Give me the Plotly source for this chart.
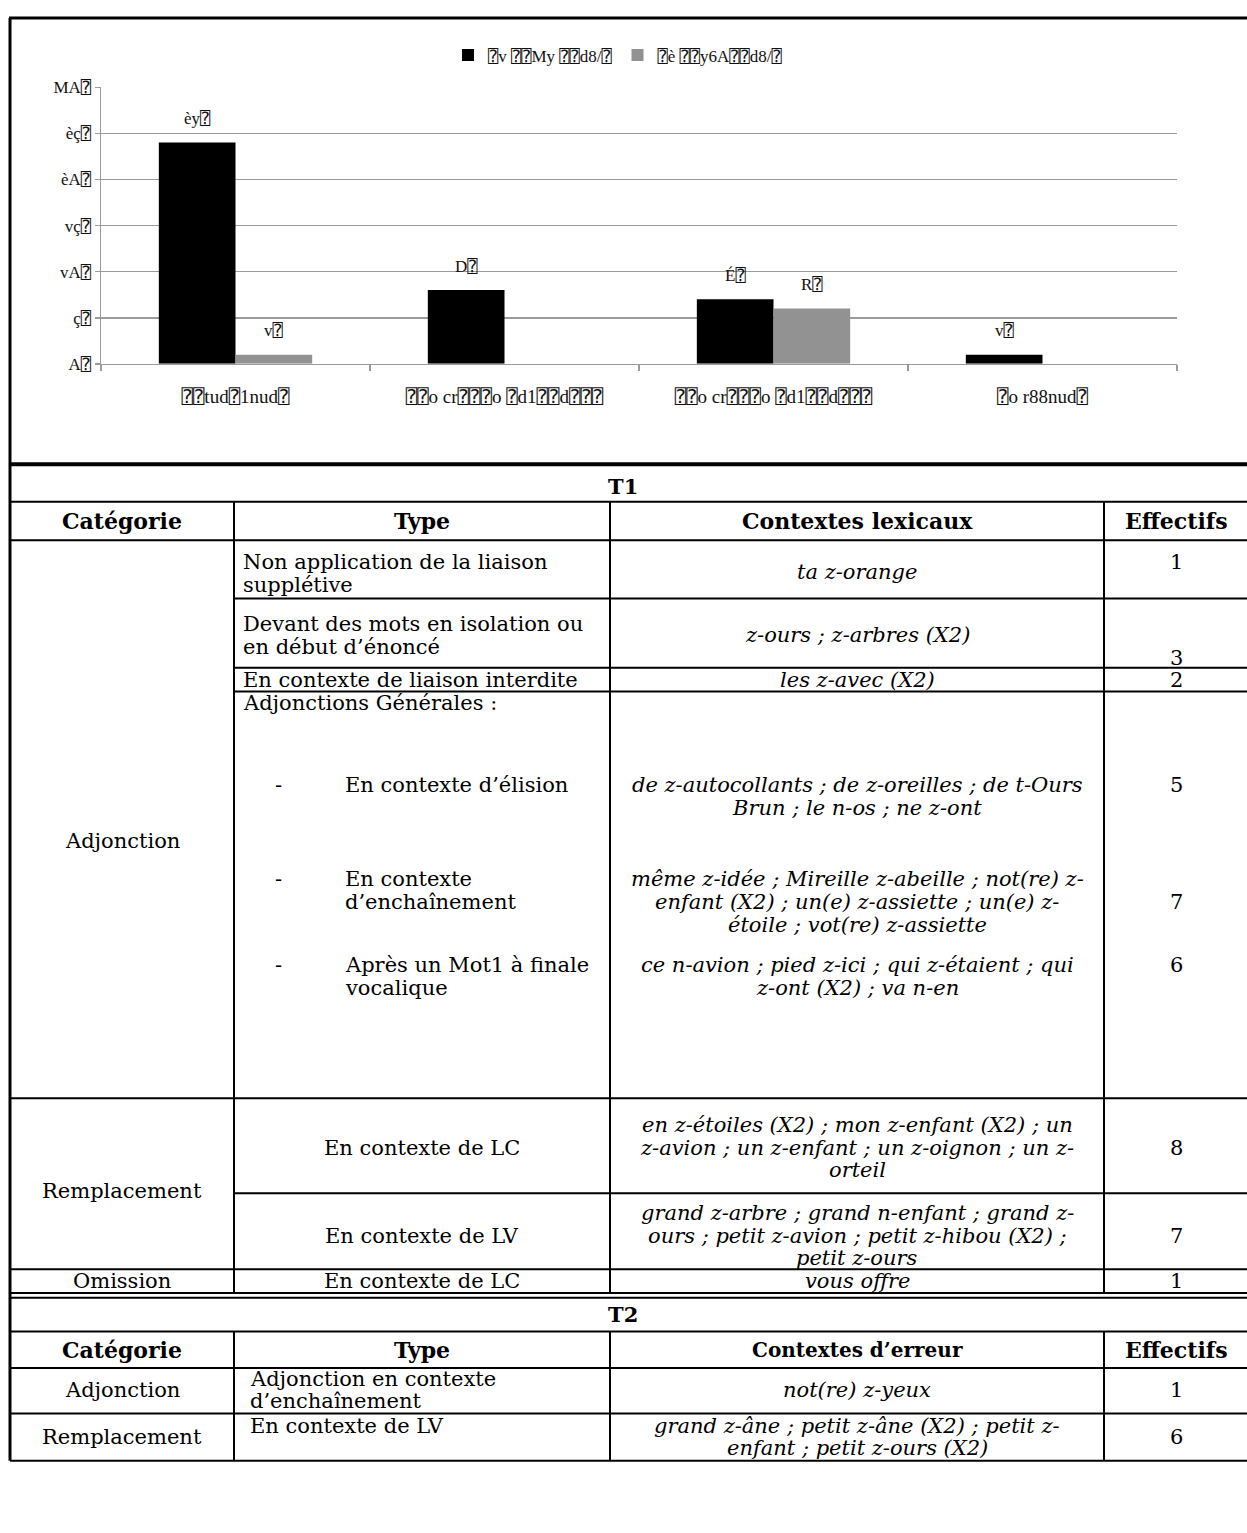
import plotly.graph_objects as go

W, H = 1247, 1533

# ---------------- chart data (text exactly as displayed, garbled glyphs included) ----------------
categories = ["⍰⍰tud⍰1nud⍰", "⍰⍰o cr⍰⍰⍰o ⍰d1⍰⍰d⍰⍰⍰", "⍰⍰o cr⍰⍰⍰o ⍰d1⍰⍰d⍰⍰⍰\u200b", "⍰o r88nud⍰"]
t1_values = [24, 8, 7, 1]
t2_values = [1, 0, 6, 0]
t1_labels = ["èy⍰", "D⍰", "É⍰", "v⍰"]
t2_labels = ["v⍰", "", "R⍰", ""]
series_names = ["⍰v ⍰⍰My ⍰⍰d8/⍰", "⍰è ⍰⍰y6A⍰⍰d8/⍰"]
ytick_vals = [0, 5, 10, 15, 20, 25, 30]
ytick_text = ["A⍰", "ç⍰", "vA⍰", "vç⍰", "èA⍰", "èç⍰", "MA⍰"]

# ---------------- table data ----------------
t1_title = "T1"
t2_title = "T2"
t1_headers = ["Catégorie", "Type", "Contextes lexicaux", "Effectifs"]
t2_headers = ["Catégorie", "Type", "Contextes d’erreur", "Effectifs"]
t1_categories = ["Adjonction", "Remplacement", "Omission"]
t1_types = [
    ["Non application de la liaison", "supplétive"],
    ["Devant des mots en isolation ou", "en début d’énoncé"],
    ["En contexte de liaison interdite"],
    ["Adjonctions Générales :"],
    ["En contexte d’élision"],
    ["En contexte", "d’enchaînement"],
    ["Après un Mot1 à finale", "vocalique"],
    ["En contexte de LC"],
    ["En contexte de LV"],
    ["En contexte de LC"],
]
t1_contexts = [
    ["ta z-orange"],
    ["z-ours ; z-arbres (X2)"],
    ["les z-avec (X2)"],
    [],
    ["de z-autocollants ; de z-oreilles ; de t-Ours", "Brun ; le n-os ; ne z-ont"],
    ["même z-idée ; Mireille z-abeille ; not(re) z-", "enfant (X2) ; un(e) z-assiette ; un(e) z-", "étoile ; vot(re) z-assiette"],
    ["ce n-avion ; pied z-ici ; qui z-étaient ; qui", "z-ont (X2) ; va n-en"],
    ["en z-étoiles (X2) ; mon z-enfant (X2) ; un", "z-avion ; un z-enfant ; un z-oignon ; un z-", "orteil"],
    ["grand z-arbre ; grand n-enfant ; grand z-", "ours ; petit z-avion ; petit z-hibou (X2) ;", "petit z-ours"],
    ["vous offre"],
]
t1_effectifs = ["1", "3", "2", "", "5", "7", "6", "8", "7", "1"]
t2_categories = ["Adjonction", "Remplacement"]
t2_types = [["Adjonction en contexte", "d’enchaînement"], ["En contexte de LV"]]
t2_contexts = [["not(re) z-yeux"], ["grand z-âne ; petit z-âne (X2) ; petit z-", "enfant ; petit z-ours (X2)"]]
t2_effectifs = ["1", "6"]

# ---------------- helpers ----------------
def px(x):
    return x / W

def py(y):
    return 1 - y / H

CHART_FONT = "Liberation Serif, DejaVu Sans Mono, DejaVu Sans"
TABLE_FONT = "DejaVu Serif, Liberation Serif"
GRID = "#9b9b9b"
BODY = 21

fig = go.Figure()
fig.add_trace(go.Bar(x=categories, y=t1_values, name=series_names[0],
                     marker=dict(color="#000000", line=dict(width=0))))
fig.add_trace(go.Bar(x=categories, y=t2_values, name=series_names[1],
                     marker=dict(color="#929292", line=dict(width=0))))

annotations = []
for i, c in enumerate(categories):
    if t1_labels[i]:
        annotations.append(dict(x=c, y=t1_values[i], xref="x", yref="y", text=t1_labels[i],
                                showarrow=False, xshift=-38, yshift=24, yanchor="middle",
                                font=dict(family=CHART_FONT, size=17, color="#111")))
    if t2_labels[i]:
        annotations.append(dict(x=c, y=t2_values[i], xref="x", yref="y", text=t2_labels[i],
                                showarrow=False, xshift=38, yshift=24, yanchor="middle",
                                font=dict(family=CHART_FONT, size=17, color="#111")))

shapes = []

def hline(y, x0, x1, w=2):
    shapes.append(dict(type="line", xref="paper", yref="paper", x0=px(x0), x1=px(x1),
                       y0=py(y), y1=py(y), line=dict(color="black", width=w)))

def vline(x, y0, y1, w=2):
    shapes.append(dict(type="line", xref="paper", yref="paper", x0=px(x), x1=px(x),
                       y0=py(y0), y1=py(y1), line=dict(color="black", width=w)))

def txt(x, y, s, size=BODY, anchor="center", bold=False, italic=False):
    if italic:
        s = "<i>" + s + "</i>"
    if bold:
        s = "<b>" + s + "</b>"
    annotations.append(dict(xref="paper", yref="paper", x=px(x), y=py(y), text=s,
                            showarrow=False, xanchor=anchor, yanchor="middle",
                            font=dict(family=TABLE_FONT, size=size, color="black")))

def lines(x, ys, arr, anchor="center", italic=False, size=BODY):
    for yy, s in zip(ys, arr):
        txt(x, yy, s, size=size, anchor=anchor, italic=italic)

# ---------------- table geometry ----------------
X0, C1, C2, C3, XR = 10, 234, 610, 1104, 1252
XC_CAT, XC_CTX, XC_EFF = (X0 + C1) / 2, (C2 + C3) / 2, 1176
X_TYPE_L, X_DASH, X_SUB = 241, 278, 343
X_TYPE_C = (C1 + C2) / 2

Y_TOP, Y_THICK = 9, 461
Y_T1, Y_H1 = 499, 538
Y_R1, Y_R2, Y_R3, Y_R4, Y_R5, Y_R6, Y_R7 = 597, 667, 691, 1103, 1199, 1276, 1300
Y_T2, Y_H2, Y_A, Y_B = 1339, 1376, 1422, 1470

hline(Y_TOP, X0 - 1, XR, 3)
vline(X0, Y_TOP, Y_B, 3)
hline(Y_THICK, X0, XR, 4)
for y in [Y_T1, Y_H1, Y_R4, Y_R6, Y_T2, Y_H2, Y_A, Y_B]:
    hline(y, X0, XR, 2)
hline(Y_R7, X0, XR, 2)
hline(Y_R7 + 5, X0, XR, 2)
for y in [Y_R1, Y_R2, Y_R3, Y_R5]:
    hline(y, C1, XR, 2)
for x in [C1, C2, C3]:
    vline(x, Y_T1, Y_R7, 2)
    vline(x, Y_T2, Y_B, 2)

# titles / headers
txt(623, (Y_THICK + Y_T1) / 2 + 3, t1_title, size=21, bold=True)
txt(623, (Y_R7 + 5 + Y_T2) / 2, t2_title, size=21, bold=True)
hx = [XC_CAT, X_TYPE_C, XC_CTX, XC_EFF]
for x, s in zip(hx, t1_headers):
    txt(x, (Y_T1 + Y_H1) / 2, s, size=22, bold=True)
for x, s in zip(hx, t2_headers):
    txt(x, (Y_T2 + Y_H2) / 2, s, size=22 if s != t2_headers[2] else 20, bold=True)

# T1 body
txt(XC_CAT, 842, t1_categories[0])
txt(XC_CAT, 1197, t1_categories[1])
txt(XC_CAT, 1288, t1_categories[2])

type_pos = [
    (X_TYPE_L, [560, 583], "left"),
    (X_TYPE_L, [623, 646], "left"),
    (X_TYPE_L, [679], "left"),
    (X_TYPE_L, [703], "left"),
    (X_SUB, [786], "left"),
    (X_SUB, [881, 904], "left"),
    (X_SUB, [968, 991], "left"),
    (X_TYPE_C, [1153], "center"),
    (X_TYPE_C, [1242], "center"),
    (X_TYPE_C, [1288], "center"),
]
ctx_y = [[570], [634], [679], [], [786, 809], [881, 904, 927], [968, 991],
         [1130, 1153, 1176], [1219, 1242, 1265], [1288]]
eff_y = [560, 657, 679, None, 786, 904, 968, 1153, 1242, 1288]

for i in range(len(t1_types)):
    x, ys, anc = type_pos[i]
    lines(x, ys, t1_types[i], anchor=anc)
    if i in (4, 5, 6):
        txt(X_DASH, ys[0], "-")
    lines(XC_CTX, ctx_y[i], t1_contexts[i], italic=True)
    if t1_effectifs[i]:
        txt(XC_EFF, eff_y[i], t1_effectifs[i])

# T2 body
t2_cat_y = [1398, 1446]
t2_type_y = [[1387, 1409], [1435]]
t2_ctx_y = [[1398], [1435, 1457]]
for i in range(len(t2_categories)):
    txt(XC_CAT, t2_cat_y[i], t2_categories[i])
    lines(248, t2_type_y[i], t2_types[i], anchor="left")
    lines(XC_CTX, t2_ctx_y[i], t2_contexts[i], italic=True)
    txt(XC_EFF, t2_cat_y[i], t2_effectifs[i])

fig.update_layout(
    width=W, height=H, autosize=False,
    margin=dict(l=0, r=0, t=0, b=0),
    paper_bgcolor="white", plot_bgcolor="white",
    barmode="group", bargap=0.43, bargroupgap=0,
    showlegend=True,
    legend=dict(orientation="h", x=px(618), xanchor="center", y=py(47), yanchor="middle",
                font=dict(family=CHART_FONT, size=17, color="#111"), traceorder="normal",
                itemwidth=30, bgcolor="rgba(0,0,0,0)"),
    xaxis=dict(domain=[px(101), px(1177)], type="category", categoryorder="array",
               categoryarray=categories, tickson="boundaries", ticks="outside", ticklen=6,
               tickcolor=GRID, tickwidth=1.5, showline=True, linecolor=GRID, linewidth=1.5,
               showgrid=False, tickfont=dict(family=CHART_FONT, size=19, color="#111"),
               ticklabelstandoff=15, fixedrange=True),
    yaxis=dict(domain=[py(359.3), py(79)], range=[0, 30.03], tickvals=ytick_vals, ticktext=ytick_text,
               ticks="outside", ticklen=5, tickcolor=GRID, tickwidth=1.5, showline=True,
               linecolor=GRID, linewidth=1.5, showgrid=True, gridcolor=GRID, gridwidth=1.5,
               zeroline=False, tickfont=dict(family=CHART_FONT, size=17, color="#111"),
               fixedrange=True),
    shapes=shapes,
    annotations=annotations,
    font=dict(family=CHART_FONT),
)

fig.write_html("out.html", config={"displayModeBar": False, "staticPlot": True},
               post_script="document.body.style.margin='0px';")
